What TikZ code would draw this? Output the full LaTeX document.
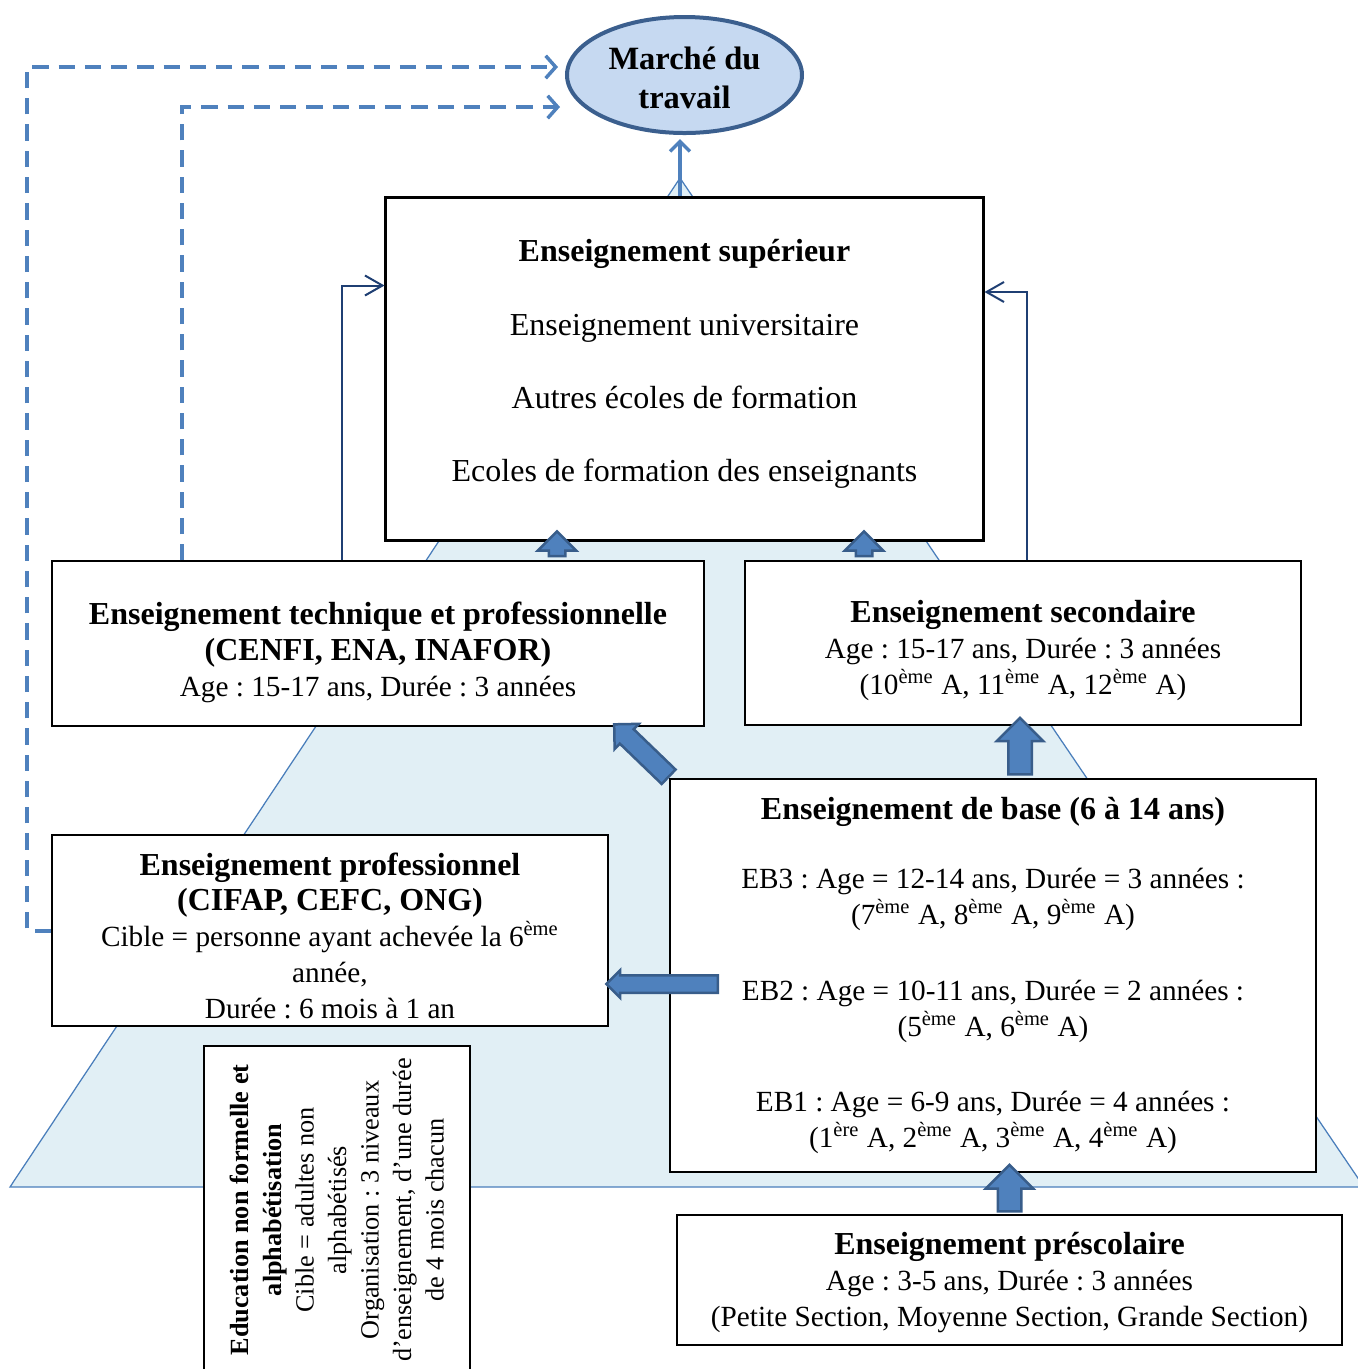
\documentclass[tikz,border=0pt]{standalone}
\usepackage{fontspec}
\setmainfont{Liberation Serif}
\usetikzlibrary{shapes.geometric,shapes.arrows,arrows.meta,calc}
\definecolor{pyrfill}{HTML}{E1EFF5}
\definecolor{pyrline}{HTML}{4A7EBB}
\definecolor{arrfill}{HTML}{4F81BD}
\definecolor{arrline}{HTML}{385D8A}
\definecolor{ellfill}{HTML}{C6D9F1}
\definecolor{ellline}{HTML}{3B5F8E}
\definecolor{thinline}{HTML}{1F3F73}
\tikzset{
  level/.style={draw, fill=white, line width=0.6pt, align=center, inner sep=2pt,
    font=\fontsize{11.7}{14.3}\selectfont},
  fat arrow/.style={single arrow, draw=arrline, fill=arrfill, line width=1pt,
    inner xsep=0pt, single arrow head extend=#1, single arrow tip angle=90},
  fat arrow/.default=4pt,
  thin arrow/.style={draw=thinline, line width=0.8pt,
    -{Straight Barb[length=7pt,width=8pt,line width=0.8pt]}},
  dash arrow/.style={draw=arrfill, line width=1.6pt, dash pattern=on 6.5pt off 4pt,
    -{Straight Barb[length=4pt,width=9pt,line width=1.4pt]}},
  up arrow/.style={draw=arrfill, line width=1.6pt,
    -{Straight Barb[length=4pt,width=8pt,line width=1.4pt]}},
}
% fat block arrow from #2 to #3
\newcommand{\fatarrow}[3][]{%
  \path let \p1=(#2), \p2=(#3), \n1={atan2(\y2-\y1,\x2-\x1)},
    \n2={veclen(\x2-\x1,\y2-\y1)} in
    node[fat arrow, #1, minimum height=\n2, rotate=\n1] at ($(\p1)!0.5!(\p2)$) {};}
% extra room above the first line / below the last line of a box
\newcommand{\topgap}[1]{\rule{0pt}{#1}}
\newcommand{\botgap}[1]{\rule[-#1]{0pt}{#1}}
\newcommand{\head}[1]{{\fontsize{12.8}{14.3}\selectfont\bfseries #1}}
\newcommand{\suptext}[1]{{\fontsize{12.8}{14.3}\selectfont #1}}

\begin{document}
\frenchspacing
\begin{tikzpicture}[x=0.4pt,y=-0.4pt]
  \useasboundingbox (0,0) rectangle (1358,1369);

  % Pyramid
  \draw[fill=pyrfill, draw=pyrline, line width=0.5pt] (680,178) -- (1364,1187) -- (10,1187) -- cycle;

  % Levels
  \node[ellipse, draw=ellline, fill=ellfill, line width=1.6pt, minimum width=94pt,
    minimum height=46.4pt, align=center, inner sep=0pt,
    font=\bfseries\fontsize{13}{15.6}\selectfont] (mar) at (684.5,75) {\topgap{11pt}Marché du\\travail};
  \node[level, line width=1.2pt, minimum width=238.8pt, minimum height=137.2pt] (sup) at (684.5,368.5)
    {\head{Enseignement supérieur}\\[15pt] \suptext{Enseignement universitaire}\\[15pt]
     \suptext{Autres écoles de formation}\\[15pt] \suptext{Ecoles de formation des enseignants}\botgap{6.4pt}};
  \node[level, minimum width=260.8pt, minimum height=66pt] (tech) at (378,643.5)
    {\topgap{16pt}\head{Enseignement technique et professionnelle}\\\head{(CENFI, ENA, INAFOR)}\\
     Age : 15-17 ans, Durée : 3 années};
  \node[level, minimum width=222.4pt, minimum height=65.6pt] (sec) at (1023,643)
    {\topgap{15pt}\head{Enseignement secondaire}\\Age : 15-17 ans, Durée : 3 années\\
     (10\textsuperscript{ème} A, 11\textsuperscript{ème} A, 12\textsuperscript{ème} A)};
  \node[level, minimum width=258.4pt, minimum height=157.2pt] (base) at (993,975.5)
    {\head{Enseignement de base (6 à 14 ans)}\\[13.5pt]
     EB3 : Age = 12-14 ans, Durée = 3 années :\\
     (7\textsuperscript{ème} A, 8\textsuperscript{ème} A, 9\textsuperscript{ème} A)\\[16pt]
     EB2 : Age = 10-11 ans, Durée = 2 années :\\
     (5\textsuperscript{ème} A, 6\textsuperscript{ème} A)\\[16pt]
     EB1 : Age = 6-9 ans, Durée = 4 années :\\
     (1\textsuperscript{ère} A, 2\textsuperscript{ème} A, 3\textsuperscript{ème} A, 4\textsuperscript{ème} A)};
  \node[level, minimum width=222.4pt, minimum height=76.4pt] (prof) at (330,930.5)
    {\topgap{13pt}\head{Enseignement professionnel}\\\head{(CIFAP, CEFC, ONG)}\\
     Cible = personne ayant achevée la 6\textsuperscript{ème}\\année,\\Durée : 6 mois à 1 an};
  \node[level, rotate=90, minimum width=131.2pt, minimum height=106.4pt,
    font=\fontsize{10.5}{13}\selectfont] (nonf) at (337,1210)
    {\textbf{Education non formelle et}\\\textbf{alphabétisation}\\Cible = adultes non\\alphabétisés\\
     Organisation : 3 niveaux\\d'enseignement, d'une durée\\de 4 mois chacun};
  \node[level, minimum width=266pt, minimum height=52pt] (pre) at (1009.5,1280)
    {\topgap{11pt}\head{Enseignement préscolaire}\\Age : 3-5 ans, Durée : 3 années\\
     (Petite Section, Moyenne Section, Grande Section)};

  % Thin arrows
  \draw[thin arrow] ([xshift=-14.4pt]tech.north) |- ([yshift=33.2pt]sup.west);
  \draw[thin arrow] ([xshift=1.6pt]sec.north) |- ([yshift=30.6pt]sup.east);

  % Dashed arrows
  \draw[dash arrow] (prof.west) -- ++(-24,0) |- ([shift={(-2.8pt,3.2pt)}]mar.west);
  \draw[dash arrow] ([xshift=-78.4pt]tech.north) |- ([shift={(-2pt,-12.8pt)}]mar.west);
  \draw[up arrow] ([xshift=-1.8pt]sup.north) -- ([xshift=-1.8pt,yshift=-1.6pt]mar.south);

  % Block arrows
  \coordinate (t1) at ([xshift=-51pt]sup.south);
  \coordinate (t2) at ([xshift=71.8pt]sup.south);
  \coordinate (t3) at ([xshift=10.8pt,yshift=-0.8pt]base.north);
  \coordinate (h3) at (t3 |- sec.south);
  \coordinate (t5) at ([shift={(21.2pt,-3.4pt)}]base.west);
  \coordinate (h5) at (t5 -| prof.east);
  \coordinate (h6) at (pre.north |- base.south);
  \fatarrow[inner ysep=2.8pt, fat arrow=4.4pt]{t1 |- tech.north}{[yshift=2.4pt]t1}
  \fatarrow[inner ysep=2.8pt, fat arrow=4.4pt]{t2 |- sec.north}{[yshift=2.4pt]t2}
  \fatarrow[inner ysep=4.2pt, fat arrow=4.6pt]{t3}{[yshift=0.8pt]h3}
  \fatarrow[inner ysep=3.5pt, fat arrow=3pt]{[shift={(1.2pt,-0.8pt)}]base.north west}{[shift={(-34.8pt,-0.4pt)}]tech.south east}
  \fatarrow[inner ysep=3pt, fat arrow=2pt]{t5}{[xshift=0.8pt]h5}
  \fatarrow[inner ysep=4.2pt, fat arrow=4.8pt]{[yshift=-1.2pt]pre.north}{[yshift=0.8pt]h6}
\end{tikzpicture}
\end{document}
